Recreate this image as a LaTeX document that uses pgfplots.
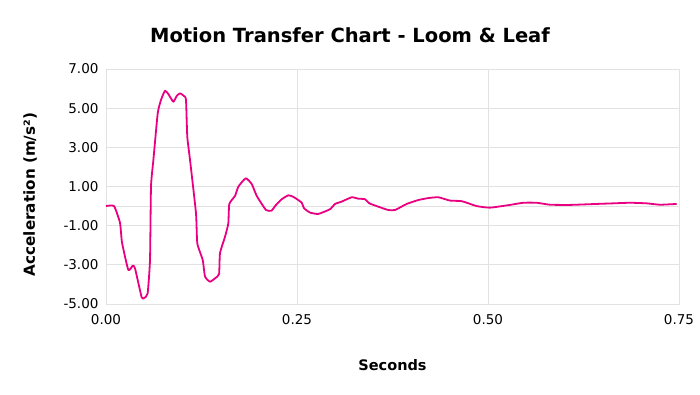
\documentclass[border=0pt]{standalone}
\usepackage{pgfplots}
\pgfplotsset{compat=1.18}
\usepackage{fontspec}
\setmainfont{DejaVu Sans}
\definecolor{curve}{RGB}{232,0,128}
\definecolor{gridc}{RGB}{226,226,226}
\begin{document}
\begin{tikzpicture}[x=1pt,y=1pt]
\useasboundingbox (0,0) rectangle (700,394);
\node[font=\bfseries\fontsize{19.5}{22}\selectfont] at (350,359) {Motion Transfer Chart - Loom \& Leaf};
\begin{axis}[
  at={(106pt,90pt)}, anchor=south west,
  width=573pt, height=235pt, scale only axis,
  xmin=0, xmax=0.75, ymin=-5, ymax=7,
  xtick={0,0.25,0.5,0.75},
  ytick={-5,-3,-1,1,3,5,7},
  extra y ticks={0}, extra y tick labels={},
  extra y tick style={grid=major, major grid style={gridc, line width=0.8pt}},
  grid=major,
  major grid style={gridc, line width=0.8pt},
  axis line style={gridc, line width=0.8pt},
  major tick length=0pt,
  /pgf/number format/assume math mode=true,
  xticklabel={\pgfmathprintnumber[fixed,fixed zerofill,precision=2]{\tick}},
  yticklabel={\pgfmathprintnumber[fixed,fixed zerofill,precision=2]{\tick}},
  tick label style={font=\fontsize{13.5}{15}\selectfont, text=black},
  xticklabel style={yshift=-7pt},
  yticklabel style={xshift=-4pt},
  xlabel={\bfseries Seconds},
  ylabel={\bfseries Acceleration (m/s²)},
  label style={font=\bfseries\fontsize{14.5}{16}\selectfont},
  xlabel style={at={(axis description cs:0.5,0)}, anchor=center, yshift=-61pt},
  ylabel style={at={(axis description cs:0,0.5)}, anchor=center, font=\bfseries\fontsize{15.2}{17}\selectfont, yshift=76pt, xshift=-8pt},
  clip=false,
]
\addplot[curve, line width=1.8pt, line join=round, smooth, tension=0.3] coordinates {
(0,0) (0.0105,0) (0.0183,-0.85) (0.021,-1.87) (0.0292,-3.26) (0.035,-3.04)
(0.038,-3.18) (0.0467,-4.66) (0.0502,-4.69) (0.0545,-4.45) (0.0576,-2.75)
(0.0589,0.99) (0.062,2.35) (0.0677,4.74) (0.072,5.42) (0.0772,5.89)
(0.0816,5.72) (0.0881,5.33) (0.0925,5.62) (0.0969,5.76) (0.1021,5.62)
(0.1047,5.42) (0.1064,3.54) (0.11,2.35) (0.1178,-0.37) (0.1195,-1.9)
(0.1266,-2.75) (0.1296,-3.6) (0.1361,-3.86) (0.1427,-3.69) (0.148,-3.47)
(0.1492,-2.41) (0.1558,-1.56) (0.1601,-0.88) (0.1614,0.11) (0.1689,0.52)
(0.1732,0.99) (0.1829,1.42) (0.1907,1.13) (0.1973,0.52) (0.2094,-0.2)
(0.2169,-0.23) (0.2212,0) (0.23,0.35) (0.2387,0.55) (0.2452,0.47)
(0.2561,0.18) (0.2592,-0.11) (0.267,-0.33) (0.2779,-0.4) (0.2932,-0.16)
(0.2998,0.11) (0.3085,0.23) (0.3216,0.45) (0.3302,0.38) (0.339,0.35)
(0.3447,0.14) (0.3586,-0.06) (0.3696,-0.2) (0.3783,-0.2) (0.3936,0.11)
(0.4089,0.31) (0.422,0.41) (0.4351,0.45) (0.4504,0.28) (0.4657,0.25)
(0.4853,0) (0.5026,-0.08) (0.5288,0.06) (0.5462,0.17) (0.5637,0.17)
(0.5812,0.07) (0.6073,0.06) (0.6423,0.11) (0.664,0.14) (0.6859,0.17)
(0.7077,0.14) (0.7251,0.07) (0.747,0.11)
};
\end{axis}
\end{tikzpicture}
\end{document}
